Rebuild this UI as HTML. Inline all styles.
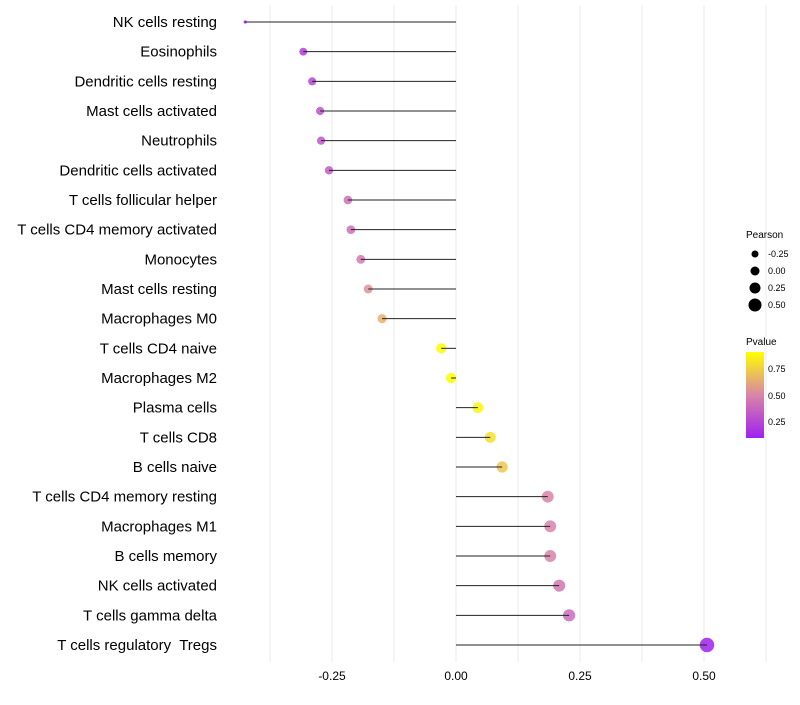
<!DOCTYPE html>
<html><head><meta charset="utf-8"><style>
body{margin:0;background:#fff;font-family:"Liberation Sans",sans-serif}
</style></head><body>
<svg id="chart" width="800" height="700" xmlns="http://www.w3.org/2000/svg">
<defs><linearGradient id="pg" x1="0" y1="1" x2="0" y2="0">
<stop offset="0" stop-color="#a020f0"/><stop offset="0.5" stop-color="#d885a8"/><stop offset="1" stop-color="#ffff00"/></linearGradient></defs>
<g id="grid"></g><g id="points"></g><g id="stems"></g><g id="labels"></g><g id="xticks"></g>
<g font-size="9" fill="#000">
<text x="746" y="238" font-size="10">Pearson</text>
<circle cx="755" cy="254" r="3.5"/><text x="768" y="257">-0.25</text>
<circle cx="755" cy="271" r="4.5"/><text x="768" y="274">0.00</text>
<circle cx="755" cy="288" r="5.5"/><text x="768" y="291">0.25</text>
<circle cx="755" cy="305" r="6.5"/><text x="768" y="308">0.50</text>
</g>
<g font-size="9" fill="#000">
<text x="746" y="345" font-size="10">Pvalue</text>
<rect x="746" y="352" width="18" height="86" fill="url(#pg)"/>
<text x="768" y="372">0.75</text><text x="768" y="399">0.50</text><text x="768" y="425">0.25</text>
</g>
</svg>
<script>
const categories=["NK cells resting","Eosinophils","Dendritic cells resting","Mast cells activated","Neutrophils","Dendritic cells activated","T cells follicular helper","T cells CD4 memory activated","Monocytes","Mast cells resting","Macrophages M0","T cells CD4 naive","Macrophages M2","Plasma cells","T cells CD8","B cells naive","T cells CD4 memory resting","Macrophages M1","B cells memory","NK cells activated","T cells gamma delta","T cells regulatory  Tregs"];
const pearson=[-0.425,-0.308,-0.29,-0.274,-0.272,-0.256,-0.218,-0.212,-0.192,-0.177,-0.149,-0.03,-0.01,0.044,0.069,0.093,0.185,0.19,0.19,0.208,0.228,0.506];
const pvalue=[0.08,0.22,0.25,0.3,0.32,0.33,0.42,0.42,0.46,0.55,0.65,0.92,0.97,0.88,0.8,0.72,0.5,0.5,0.5,0.45,0.4,0.1];
const tickValues=[-0.25,0,0.25,0.5];
const tickLabels=["-0.25","0.00","0.25","0.50"];
const NS="http://www.w3.org/2000/svg";
const x=v=>456+v*496;
const y=i=>22+i*(623/21);
function mk(t,a,p){const e=document.createElementNS(NS,t);for(const k in a)e.setAttribute(k,a[k]);p.appendChild(e);return e;}
function lerp(a,b,t){return a.map((v,i)=>Math.round(v+(b[i]-v)*t));}
function col(p){const lo=0.1,hi=0.91;let t=Math.max(0,Math.min(1,(p-lo)/(hi-lo)));
const A=[160,32,240],M=[216,133,168],B=[255,255,0];
const c=t<0.5?lerp(A,M,t*2):lerp(M,B,(t-0.5)*2);return `rgb(${c})`;}
const grid=document.getElementById('grid'),points=document.getElementById('points'),stems=document.getElementById('stems'),labels=document.getElementById('labels'),xt=document.getElementById('xticks');
for(let v=-0.375;v<=0.63;v+=0.125){const g=mk('line',{x1:x(v),x2:x(v),y1:5,y2:662,stroke:'#ebebeb','stroke-width':1},grid);

}
tickValues.forEach((v,i)=>{const t=mk('text',{x:x(v),y:680,'text-anchor':'middle','font-size':12,fill:'#000'},xt);t.textContent=tickLabels[i];

});
categories.forEach((c,i)=>{
const v=pearson[i];
const r=v<-0.4?1.6:5.2+4*v;
const p=mk('circle',{cx:x(v),cy:y(i),r:r,fill:col(pvalue[i]),'fill-opacity':0.85},points);


const l=mk('line',{x1:x(0),x2:x(v),y1:y(i),y2:y(i),stroke:'#222','stroke-width':1},stems);


const t=mk('text',{x:217,y:y(i)+5,'text-anchor':'end','font-size':15,fill:'#000',style:'white-space:pre'},labels);t.textContent=c;


});
</script>
</body></html>
